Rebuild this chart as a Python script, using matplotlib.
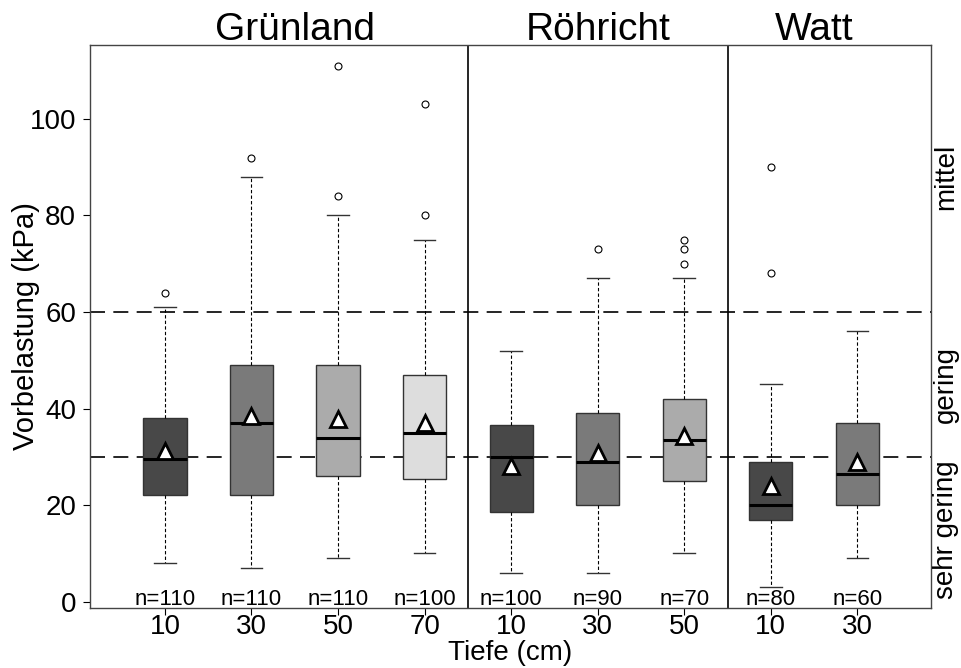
import matplotlib
matplotlib.use("Agg")
import matplotlib.pyplot as plt
import matplotlib.transforms as mtransforms

plt.rcParams['font.family'] = ['Liberation Sans', 'DejaVu Sans']

# data
groups = ["Grünland", "Röhricht", "Watt"]
depths = ["10", "30", "50", "70", "10", "30", "50", "10", "30"]
group_of = [0, 0, 0, 0, 1, 1, 1, 2, 2]
n_obs = [110, 110, 110, 100, 100, 90, 70, 80, 60]
q1 = [22, 22, 26, 25.5, 18.5, 20, 25, 17, 20]
med = [29.5, 37, 34, 35, 30, 29, 33.5, 20, 26.5]
q3 = [38, 49, 49, 47, 36.5, 39, 42, 29, 37]
whis_lo = [8, 7, 9, 10, 6, 6, 10, 3, 9]
whis_hi = [61, 88, 80, 75, 52, 67, 67, 45, 56]
means = [31.3, 38.5, 37.9, 37.0, 28.0, 30.8, 34.3, 24.0, 29.0]
outliers = [[64], [92], [84, 111], [80, 103], [], [73], [70, 73, 75], [68, 90], []]
class_breaks = [30, 60]
class_labels = ["sehr gering", "gering", "mittel"]
class_label_pos = [15, 45, 88]

depth_colors = {"10": "#484848", "30": "#7a7a7a", "50": "#ababab", "70": "#dddddd"}

positions = list(range(1, len(depths) + 1))

fig = plt.figure(figsize=(9.62, 6.68), dpi=100)
ax = fig.add_axes([90 / 962, 60 / 668, 841 / 962, 563 / 668])

stats = []
for i in range(len(depths)):
    stats.append(dict(med=med[i], q1=q1[i], q3=q3[i], whislo=whis_lo[i],
                      whishi=whis_hi[i], mean=means[i], fliers=outliers[i]))

bp = ax.bxp(stats, positions=positions, widths=0.5, patch_artist=True,
            showmeans=True, capwidths=0.25,
            boxprops=dict(edgecolor="#333333", linewidth=1.0),
            medianprops=dict(color="black", linewidth=2.2),
            whiskerprops=dict(color="black", linewidth=0.8, linestyle=(0, (3, 2))),
            capprops=dict(color="#333333", linewidth=1.0),
            flierprops=dict(marker="o", markerfacecolor="none", markeredgecolor="black",
                            markersize=5, markeredgewidth=0.8),
            meanprops=dict(marker="^", markerfacecolor="white", markeredgecolor="black",
                           markersize=11, markeredgewidth=2))
for patch, d in zip(bp["boxes"], depths):
    patch.set_facecolor(depth_colors[d])

ax.set_xlim(0.135, 9.85)
ax.set_ylim(-1.32, 115.32)

# class thresholds
for b in class_breaks:
    ax.axhline(b, color="black", linewidth=1.2, linestyle=(0, (9, 5)), zorder=0.5)

# group separators and titles
for sep in [4.5, 7.5]:
    ax.axvline(sep, color="black", linewidth=1.2)
for g, name in enumerate(groups):
    pos = [p for p, gg in zip(positions, group_of) if gg == g]
    ax.text(sum(pos) / len(pos), 1.009, name, fontsize=28, ha="center", va="baseline",
            transform=mtransforms.blended_transform_factory(ax.transData, ax.transAxes))

# sample sizes
for p, n in zip(positions, n_obs):
    ax.text(p, -0.6, f"n={n}", fontsize=16, ha="center", va="baseline")

# class labels on the right
for lab, y in zip(class_labels, class_label_pos):
    ax.text(1.018, y, lab, fontsize=20, rotation=90, ha="center", va="center",
            transform=mtransforms.blended_transform_factory(ax.transAxes, ax.transData))

ax.set_xticks(positions)
ax.set_xticklabels(depths)
ax.set_yticks([0, 20, 40, 60, 80, 100])
ax.tick_params(axis="x", labelsize=20, length=5, direction="out", pad=-1)
ax.tick_params(axis="y", labelsize=20, length=5, direction="out", pad=5)
ax.set_xlabel("Tiefe (cm)", fontsize=20, labelpad=0)
ax.set_ylabel("Vorbelastung (kPa)", fontsize=21)
ax.yaxis.set_label_coords(-0.0595, 0.5)
for s in ax.spines.values():
    s.set_color("#444444")
    s.set_linewidth(1.0)

fig.savefig("out.png", dpi=100)
